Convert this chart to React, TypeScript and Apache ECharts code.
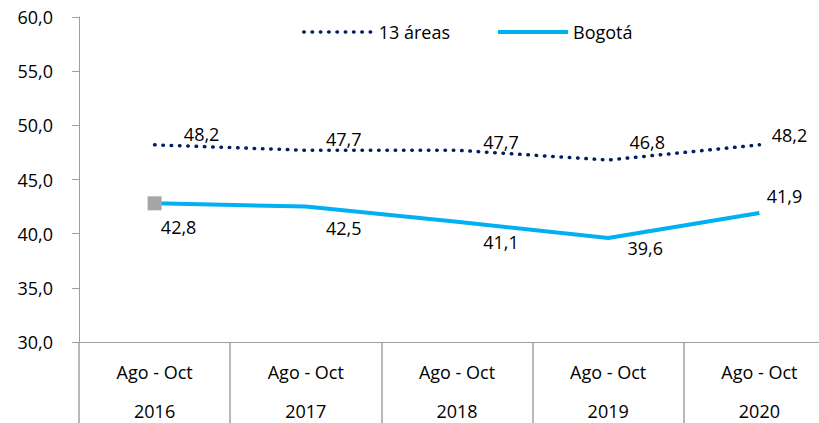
import React, { useEffect, useRef } from "react";
import * as echarts from "echarts";

const periods = ["Ago - Oct", "Ago - Oct", "Ago - Oct", "Ago - Oct", "Ago - Oct"];
const years = ["2016", "2017", "2018", "2019", "2020"];
const areas13 = [48.2, 47.7, 47.7, 46.8, 48.2];
const bogota = [42.8, 42.5, 41.1, 39.6, 41.9];

const areasLabelOffsets = [[47, -11], [38, -11], [44, -8], [39, -18], [30, -10]];
const bogotaLabelOffsets = [[24, 24], [38, 21], [44, 20], [37, 10], [25, -17]];

const FONT = "Open Sans";
const fmt = (v: number) => v.toFixed(1).replace(".", ",");
const CLEAR = "rgba(0,0,0,0)";

export default function App() {
  const ref = useRef<HTMLDivElement>(null);
  useEffect(() => {
    if (!ref.current) return;
    const chart = echarts.init(ref.current, null, { renderer: "svg" });
    const categories = years.map((y, i) => `${periods[i]}|${y}`);
    const axisGray = "#A0A0A0";
    const labelBase = {
      show: true,
      position: "inside",
      fontFamily: FONT,
      fontSize: 18,
      color: "#000",
      formatter: (p: any) => fmt(p.value),
    };
    chart.setOption({
      animation: false,
      textStyle: { fontFamily: FONT },
      grid: { left: 79, top: 17, width: 756, height: 325, containLabel: false },
      legend: {
        data: ["13 áreas", "Bogotá"],
        left: 297,
        top: 18,
        itemWidth: 70,
        itemHeight: 14,
        itemGap: 46,
        lineStyle: { width: "inherit" },
        textStyle: { fontFamily: FONT, fontSize: 18, color: "#000" },
      },
      xAxis: {
        type: "category",
        data: categories,
        boundaryGap: true,
        axisLine: { show: true, lineStyle: { color: axisGray, width: 1 } },
        axisTick: { show: true, interval: 0, length: 85, lineStyle: { color: axisGray, width: 1.5 } },
        axisLabel: {
          interval: 0,
          margin: 10,
          formatter: (v: string) => {
            const [p, y] = v.split("|");
            return `{a|${p}}\n{b|${y}}`;
          },
          rich: {
            a: { fontFamily: FONT, fontSize: 18, color: "#000", lineHeight: 39 },
            b: { fontFamily: FONT, fontSize: 18, color: "#000", lineHeight: 39 },
          },
        },
        splitLine: { show: false },
      },
      yAxis: {
        type: "value",
        min: 30,
        max: 60,
        interval: 5,
        axisLine: { show: true, lineStyle: { color: axisGray, width: 1 } },
        axisTick: { show: true, length: 7, lineStyle: { color: axisGray } },
        axisLabel: {
          margin: 26,
          fontFamily: FONT,
          fontSize: 18,
          color: "#000",
          formatter: (v: number) => fmt(v),
        },
        splitLine: { show: false },
      },
      series: [
        {
          name: "13 áreas",
          type: "line",
          symbol: "circle",
          symbolSize: 2,
          z: 3,
          lineStyle: { color: "#002060", width: 3.5, type: [0.5, 7.8], cap: "round" },
          itemStyle: { color: CLEAR, borderWidth: 0 },
          label: labelBase,
          data: areas13.map((v, i) => ({ value: v, label: { offset: areasLabelOffsets[i] } })),
        },
        {
          name: "Bogotá",
          type: "line",
          symbol: "circle",
          symbolSize: 2,
          z: 2,
          lineStyle: { color: "#00B0F0", width: 4 },
          itemStyle: { color: CLEAR, borderWidth: 0 },
          label: labelBase,
          data: bogota.map((v, i) =>
            i === 0
              ? {
                  value: v,
                  symbol: "rect",
                  symbolSize: 14,
                  itemStyle: { color: "#A6A6A6" },
                  label: { offset: bogotaLabelOffsets[i] },
                }
              : { value: v, label: { offset: bogotaLabelOffsets[i] } }
          ),
        },
      ],
    });
    return () => chart.dispose();
  }, []);
  return (
    <div
      ref={ref}
      style={{ position: "fixed", left: 0, top: 0, width: 850, height: 423, background: "#fff" }}
    />
  );
}
